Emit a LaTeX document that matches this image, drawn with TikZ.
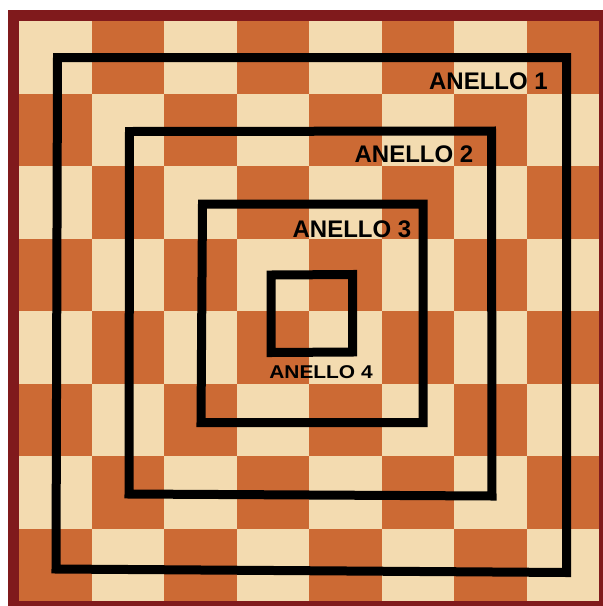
\documentclass[tikz,border=0pt]{standalone}
\usepackage{fontspec}
\setmainfont{Liberation Sans}
\definecolor{lightsq}{RGB}{243,219,176}
\definecolor{darksq}{RGB}{204,106,52}
\definecolor{boardframe}{RGB}{128,26,28}
\begin{document}
\begin{tikzpicture}[x=1pt,y=-1pt,
  ring/.style={draw=black,line width=9pt,line join=miter},
  lab/.style={font=\bfseries\fontsize{24}{24}\selectfont,inner sep=0pt,anchor=base,text=black},
  smalllab/.style={font=\bfseries\fontsize{18.5}{18.5}\selectfont,inner sep=0pt,anchor=base,text=black}]
\useasboundingbox (0,0) rectangle (603,606);
\fill[white] (0,0) rectangle (603,606);
\fill[boardframe] (8,10) rectangle (603,606);
\foreach \r in {0,...,7}{
  \foreach \c in {0,...,7}{
    \pgfmathtruncatemacro{\sqparity}{mod(\r+\c,2)}
    \ifnum\sqparity=0
      \fill[lightsq] ({19+72.5*\c},{21+72.5*\r}) rectangle ({19+72.5*(\c+1)},{21+72.5*(\r+1)});
    \else
      \fill[darksq] ({19+72.5*\c},{21+72.5*\r}) rectangle ({19+72.5*(\c+1)},{21+72.5*(\r+1)});
    \fi
  }
}
% rings
\draw[ring] (57.5,57.5) -- (566.5,57.5) -- (566.5,572.5) -- (56,569) -- cycle;
\draw[ring] (129.5,131.5) -- (491.5,131) -- (492,496) -- (129,494) -- cycle;
\draw[ring] (202.5,204) -- (423,204) -- (423,422.5) -- (201,422.5) -- cycle;
\draw[ring] (271,275) -- (352.5,274.5) -- (352.5,352) -- (271,352.5) -- cycle;
% labels
\node[lab] (l1) at (488.5,89) {ANELLO 1};
\node[lab] (l2) at (414,162) {ANELLO 2};
\node[lab] (l3) at (352,237) {ANELLO 3};
\node[smalllab] (l4) at (321,378) {\scalebox{1.13}[1]{ANELLO 4}};
\end{tikzpicture}
\end{document}
